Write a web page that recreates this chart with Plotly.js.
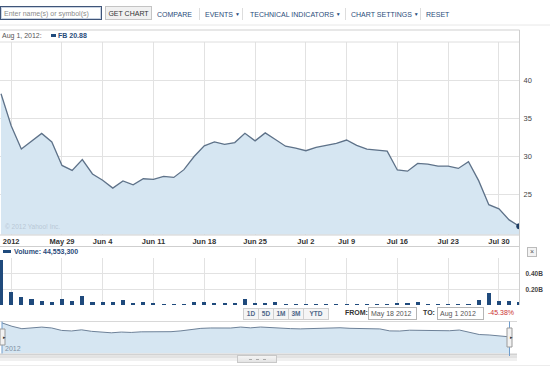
<!DOCTYPE html>
<html>
<head>
<meta charset="utf-8">
<script src="https://cdn.plot.ly/plotly-3.0.1.min.js"></script>
<style>
  html, body { margin:0; padding:0; background:#fff; }
  #wrap { position:relative; width:550px; height:367px; overflow:hidden; font-family:"Liberation Sans", Arial, sans-serif; }
  #chart { position:absolute; left:0; top:0; width:550px; height:367px; }
  .ov { position:absolute; white-space:nowrap; z-index:2; line-height:1; }
  .nav { font-size:7px; color:#2a4c7a; top:11px; }
  .sep { position:absolute; top:8px; width:1px; height:12px; background:#ddd; z-index:2; }
  .tri { font-size:5px; vertical-align:1px; }
  .btn { position:absolute; top:308px; height:10px; border:1px solid #cfcfcf; background:#f5f5f5; font-size:6.5px; font-weight:bold; color:#4f6788; text-align:center; line-height:10px; z-index:2; box-sizing:content-box; }
  .inp { position:absolute; top:307px; height:11px; border:1px solid #b5b5b5; background:#fff; font-size:7px; color:#555; line-height:11px; padding-left:2px; z-index:2; }
  .grip { display:inline-block; width:3px; height:1px; background:#aaa; margin:0 2px; vertical-align:middle; }
</style>
</head>
<body>
<div id="wrap">
  <div id="chart"></div>

  <!-- toolbar -->
  <div class="ov" style="left:0;top:6px;width:102px;height:14px;border:1px solid #3f5478;box-shadow:inset 0 0 0 1px #c9d3e2;font-size:7px;color:#8a8a8a;line-height:14px;padding-left:3px;box-sizing:border-box;">Enter name(s) or symbol(s)</div>
  <div class="ov" style="left:105px;top:6px;width:47px;height:14px;border:1px solid #c4c4c4;background:#f1f1f1;font-size:7px;color:#333;line-height:14px;text-align:center;box-sizing:border-box;">GET CHART</div>
  <div class="ov nav" style="left:157px;">COMPARE</div>
  <div class="sep" style="left:199px;"></div>
  <div class="ov nav" style="left:205px;">EVENTS <span class="tri">&#9660;</span></div>
  <div class="sep" style="left:242px;"></div>
  <div class="ov nav" style="left:250px;">TECHNICAL INDICATORS <span class="tri">&#9660;</span></div>
  <div class="sep" style="left:345px;"></div>
  <div class="ov nav" style="left:351px;">CHART SETTINGS <span class="tri">&#9660;</span></div>
  <div class="sep" style="left:420px;"></div>
  <div class="ov nav" style="left:426px;">RESET</div>

  <!-- price header -->
  <div class="ov" id="hdrDate" style="left:2px;top:32px;font-size:7px;color:#555;"></div>
  <div class="ov" style="left:51px;top:34px;width:5px;height:3px;background:#1f4a7c;"></div>
  <div class="ov" id="hdrPrice" style="left:58px;top:32px;font-size:7px;font-weight:bold;color:#2a4c7a;"></div>

  <!-- volume header -->
  <div class="ov" style="left:3px;top:250px;width:8px;height:3px;background:#1f4a7c;"></div>
  <div class="ov" id="hdrVol" style="left:14px;top:248px;font-size:7px;font-weight:bold;color:#2a4c7a;"></div>
  <div class="ov" style="left:527px;top:247px;width:8px;height:8px;border:1px solid #bbb;background:#f3f3f3;font-size:7px;color:#555;text-align:center;line-height:8px;">&#215;</div>

  <!-- range controls -->
  <div class="btn" style="left:243px;width:14px;">1D</div>
  <div class="btn" style="left:258px;width:14px;">5D</div>
  <div class="btn" style="left:273px;width:14px;">1M</div>
  <div class="btn" style="left:288px;width:14px;">3M</div>
  <div class="btn" style="left:303px;width:24px;">YTD</div>
  <div class="ov" style="left:345px;top:309px;font-size:7px;font-weight:bold;color:#333;">FROM:</div>
  <div class="inp" id="fromBox" style="left:368px;width:45px;"></div>
  <div class="ov" style="left:423px;top:309px;font-size:7px;font-weight:bold;color:#333;">TO:</div>
  <div class="inp" id="toBox" style="left:437px;width:43px;"></div>
  <div class="ov" id="pct" style="left:488px;top:309px;font-size:7px;color:#cc3333;"></div>

  <!-- navigator scroll button -->
  <div class="ov" style="left:237px;top:355px;width:40px;height:8px;border:1px solid #c8c8c8;background:linear-gradient(#f4f4f4,#e4e4e4);text-align:center;line-height:6px;box-sizing:border-box;"><span class="grip"></span><span class="grip"></span><span class="grip"></span></div>
</div>

<script>
// ---------------- data ----------------
const dates = ['May 18','May 21','May 22','May 23','May 24','May 25',
  'May 29','May 30','May 31','Jun 1',
  'Jun 4','Jun 5','Jun 6','Jun 7','Jun 8',
  'Jun 11','Jun 12','Jun 13','Jun 14','Jun 15',
  'Jun 18','Jun 19','Jun 20','Jun 21','Jun 22',
  'Jun 25','Jun 26','Jun 27','Jun 28','Jun 29',
  'Jul 2','Jul 3','Jul 5','Jul 6',
  'Jul 9','Jul 10','Jul 11','Jul 12','Jul 13',
  'Jul 16','Jul 17','Jul 18','Jul 19','Jul 20',
  'Jul 23','Jul 24','Jul 25','Jul 26','Jul 27',
  'Jul 30','Jul 31','Aug 1'];

const closes = [38.23,34.03,31.00,32.00,33.03,31.91,
  28.84,28.19,29.60,27.72,
  26.90,25.87,26.81,26.31,27.10,
  27.01,27.40,27.27,28.29,30.01,
  31.41,31.91,31.60,31.84,33.05,
  32.06,33.10,32.23,31.36,31.10,
  30.77,31.20,31.47,31.73,
  32.17,31.47,30.97,30.81,30.72,
  28.25,28.09,29.11,29.00,28.76,
  28.75,28.45,29.34,26.85,23.71,
  23.15,21.71,20.88];

const volumes = [573.6e6,168.2e6,101.8e6,73.6e6,50.2e6,37.1e6,
  78.1e6,57.3e6,111.6e6,41.9e6,
  35.3e6,42.0e6,61.5e6,26.2e6,38.0e6,
  28.2e6,15.5e6,17.2e6,16.6e6,43.6e6,
  42.9e6,30.8e6,21.9e6,19.4e6,74.8e6,
  24.4e6,28.0e6,40.8e6,17.7e6,19.0e6,
  14.1e6,8.8e6,10.0e6,10.9e6,
  17.8e6,14.0e6,12.5e6,13.5e6,8.1e6,
  24.7e6,23.4e6,32.6e6,16.5e6,13.7e6,
  14.6e6,15.6e6,18.4e6,64.6e6,150.0e6,
  54.1e6,56.2e6,44.55e6];

const tickDates  = ['May 21','May 29','Jun 4','Jun 11','Jun 18','Jun 25','Jul 2','Jul 9','Jul 16','Jul 23','Jul 30'];
const tickLabels = ['2012','May 29','Jun 4','Jun 11','Jun 18','Jun 25','Jul 2','Jul 9','Jul 16','Jul 23','Jul 30'];

const priceTicks = [25,30,35,40];
const volTicks = [0.2e9,0.4e9,0.6e9];
const volTickText = ['0.20B','0.40B',''];

const symbol = 'FB';
const lastDateLabel = 'Aug 1, 2012:';
const fromText = 'May 18 2012';
const toText = 'Aug 1 2012';
const pctText = '-45.38%';
const volText = 'Volume: 44,553,300';

// ---------------- derived ----------------
const idx = dates.map((d,i)=>i);
const tickVals = tickDates.map(d=>dates.indexOf(d));
const last = closes.length-1;

document.getElementById('hdrDate').textContent = lastDateLabel;
document.getElementById('hdrPrice').textContent = symbol + ' ' + closes[last].toFixed(2);
document.getElementById('hdrVol').textContent = volText;
document.getElementById('fromBox').textContent = fromText;
document.getElementById('toBox').textContent = toText;
document.getElementById('pct').textContent = pctText;

// pixel helpers for layout positions
const W = 550, H = 367;
const px = v => v / W;
const py = v => 1 - v / H;

const fillC = '#d6e6f2';
const lineC = '#5e7289';
const gridC = '#e2e2e2';
const borderC = '#cfcfcf';

const traces = [
  { x: idx, y: closes, type:'scatter', mode:'lines', fill:'tozeroy',
    fillcolor: fillC, line:{color:lineC, width:1.3}, xaxis:'x', yaxis:'y', hoverinfo:'skip' },
  { x: [idx[last]], y: [closes[last]], type:'scatter', mode:'markers',
    marker:{color:'#1f3d63', size:6}, xaxis:'x', yaxis:'y', hoverinfo:'skip' },
  { x: idx, y: volumes, type:'bar', width:0.4, marker:{color:'#1f4a7c', line:{width:0}},
    xaxis:'x2', yaxis:'y2', hoverinfo:'skip' },
  { x: idx, y: closes, type:'scatter', mode:'lines', fill:'tozeroy',
    fillcolor: fillC, line:{color:'#6d8198', width:1}, xaxis:'x3', yaxis:'y3', hoverinfo:'skip' }
];

const line = (x0,y0,x1,y1,color,w) => ({type:'line', xref:'paper', yref:'paper',
  x0:px(x0), y0:py(y0), x1:px(x1), y1:py(y1), line:{color:color, width:w||1}, layer:'above'});
const rect = (x0,y0,x1,y1,fill,lc) => ({type:'rect', xref:'paper', yref:'paper',
  x0:px(x0), y0:py(y0), x1:px(x1), y1:py(y1), fillcolor:fill, line:{color:lc||fill, width:lc?1:0}, layer:'above'});

const shapes = [
  line(0,25,550,25,'#e8e8e8'),
  line(0,30,519.5,30,borderC),
  line(0,42,519.5,42,'#dedede'),
  line(519.5,30,519.5,305,borderC),
  line(0,235,519.5,235,borderC),
  line(0,246.5,519.5,246.5,borderC),
  // navigator frame
  line(0,321.5,517,321.5,'#d8d8d8'),
  rect(0,353.5,517,355.5,'#d2d2d2'),
  rect(0,355.5,517,358,'#e2e2e2'),
  rect(0,358,517,361,'#f0f0f0'),
  line(0,365.5,550,365.5,'#ececec'),
  // handles
  line(2,321.5,2,353.5,'#6f9ccc'),
  rect(0,329,5,345,'#f2f2f2','#9a9a9a'),
  line(509.5,321.5,509.5,356,'#6f9ccc'),
  rect(507,328,512,347,'#f2f2f2','#9a9a9a')
];

const annotations = [
  { xref:'paper', yref:'paper', x:px(3), y:py(226), xanchor:'left', yanchor:'middle',
    text:'© 2012 Yahoo! Inc.', showarrow:false, font:{family:'Liberation Sans, Arial', size:6.5, color:'#b9c8d6'} },
  { xref:'paper', yref:'paper', x:px(3), y:py(348.5), xanchor:'left', yanchor:'middle',
    text:'2012', showarrow:false, font:{family:'Liberation Sans, Arial', size:7, color:'#7f90a3'} },
  { xref:'paper', yref:'paper', x:px(1), y:py(337), xanchor:'left', yanchor:'middle',
    text:'▸', showarrow:false, font:{size:5, color:'#333'} },
  { xref:'paper', yref:'paper', x:px(508), y:py(337), xanchor:'left', yanchor:'middle',
    text:'▸', showarrow:false, font:{size:5, color:'#333'} }
];

const xRange = [-0.1, 51.02];
const layout = {
  width: W, height: H,
  margin:{l:0,r:0,t:0,b:0,pad:0},
  paper_bgcolor:'#fff', plot_bgcolor:'rgba(0,0,0,0)',
  showlegend:false,
  font:{family:'Liberation Sans, Arial, sans-serif'},
  xaxis:{ domain:[0, px(519.5)], range:xRange, anchor:'y',
    tickmode:'array', tickvals:tickVals, ticktext:tickLabels,
    showgrid:true, gridcolor:gridC, gridwidth:1, zeroline:false, showline:false,
    ticks:'', tickfont:{size:7.5, color:'#333', family:'Liberation Sans, Arial', weight:'bold'},
    ticklabelstandoff:1, fixedrange:true },
  yaxis:{ domain:[py(234.5), py(42)], range:[19.8,45], anchor:'x', side:'right',
    tickmode:'array', tickvals:priceTicks,
    showgrid:true, gridcolor:gridC, zeroline:false, showline:false, ticks:'',
    tickfont:{size:7.5, color:'#444'}, ticklabelstandoff:3, fixedrange:true },
  xaxis2:{ domain:[0, px(519.5)], range:xRange, anchor:'y2',
    tickmode:'array', tickvals:tickVals, showticklabels:false,
    showgrid:true, gridcolor:gridC, zeroline:false, showline:false, ticks:'', fixedrange:true },
  yaxis2:{ domain:[py(305), py(258)], range:[0,0.6e9], anchor:'x2', side:'right',
    tickmode:'array', tickvals:volTicks, ticktext:volTickText,
    showgrid:true, gridcolor:gridC, zeroline:false, showline:false, ticks:'',
    tickfont:{size:6.5, color:'#444', weight:'bold'}, ticklabelstandoff:5, fixedrange:true },
  xaxis3:{ domain:[0, px(517)], range:[-0.2, 51.8], anchor:'y3',
    visible:false, fixedrange:true },
  yaxis3:{ domain:[py(353.5), py(321.5)], range:[0,40], anchor:'x3',
    visible:false, fixedrange:true },
  shapes: shapes,
  annotations: annotations,
  bargap:0
};

Plotly.newPlot('chart', traces, layout, {staticPlot:true, displayModeBar:false});
</script>
</body>
</html>
